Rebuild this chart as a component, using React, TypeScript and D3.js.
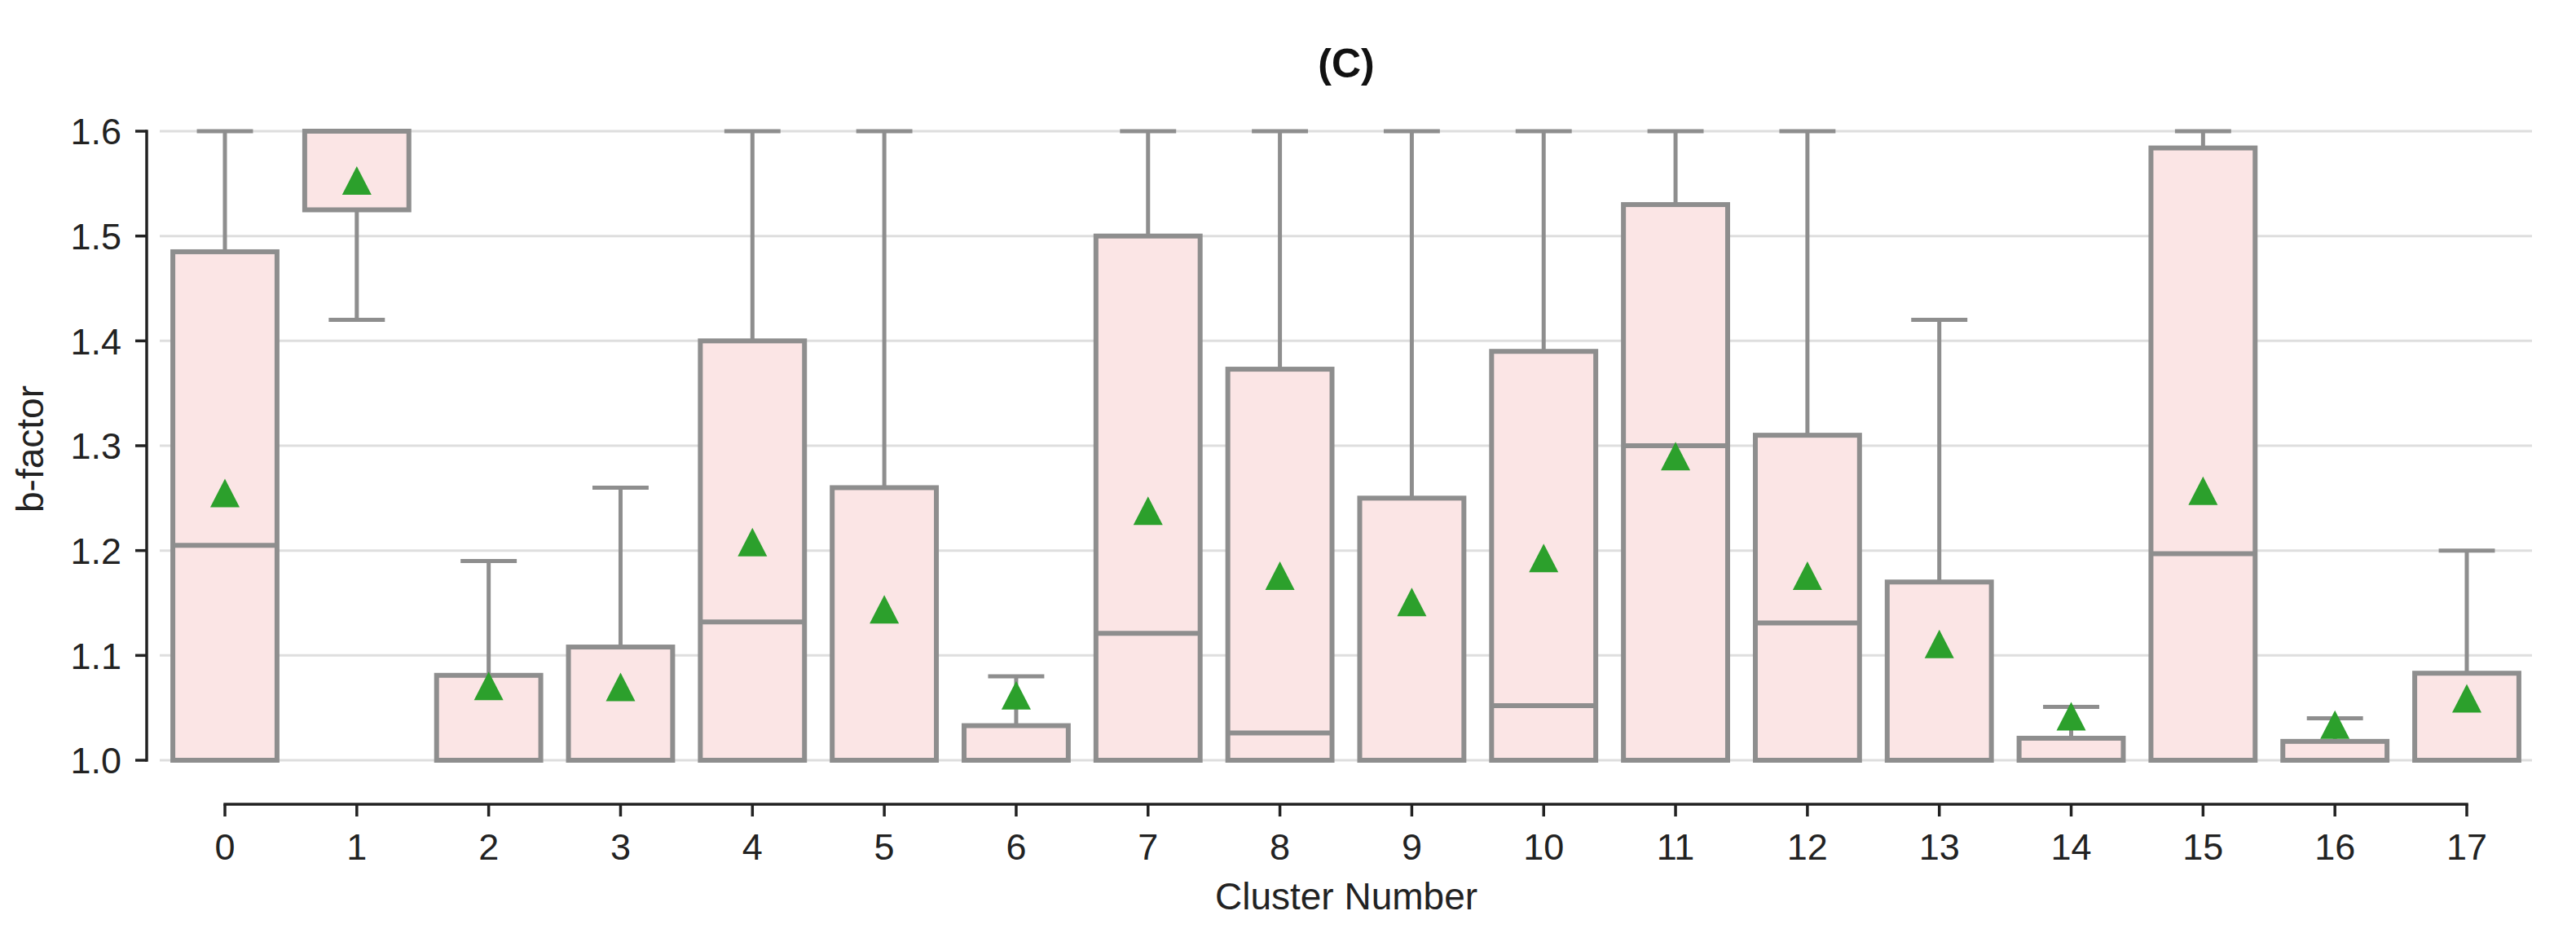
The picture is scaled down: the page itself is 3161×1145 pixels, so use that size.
import React from "react";
import * as d3 from "d3";

const categories = ["0","1","2","3","4","5","6","7","8","9","10","11","12","13","14","15","16","17"];
const whiskerLow = [1.0,1.42,1.0,1.0,1.0,1.0,1.0,1.0,1.0,1.0,1.0,1.0,1.0,1.0,1.0,1.0,1.0,1.0];
const q1 =        [1.0,1.525,1.0,1.0,1.0,1.0,1.0,1.0,1.0,1.0,1.0,1.0,1.0,1.0,1.0,1.0,1.0,1.0];
const median =    [1.205,1.6,1.0,1.0,1.132,1.0,1.0,1.121,1.026,1.0,1.052,1.30,1.131,1.0,1.0,1.197,1.0,1.0];
const q3 =        [1.485,1.6,1.081,1.108,1.40,1.26,1.033,1.50,1.373,1.25,1.39,1.53,1.31,1.17,1.021,1.584,1.018,1.083];
const whiskerHigh=[1.6,1.6,1.19,1.26,1.6,1.6,1.08,1.6,1.6,1.6,1.6,1.6,1.6,1.42,1.051,1.6,1.04,1.2];
const means =     [1.255,1.553,1.071,1.07,1.208,1.144,1.062,1.238,1.176,1.151,1.193,1.29,1.176,1.111,1.042,1.257,1.034,1.059];
const yTicks = [1.0,1.1,1.2,1.3,1.4,1.5,1.6];

const W = 3161, H = 1145;
const FONT = "'Liberation Sans', Arial, Helvetica, sans-serif";
const EDGE = "#8e8e8e";
const FILL = "#fbe5e5";
const GREEN = "#2ca02c";
const AXIS = "#222222";

function trianglePath(w: number, h: number): string {
  const p = d3.path();
  p.moveTo(0, -h / 2);
  p.lineTo(w / 2, h / 2);
  p.lineTo(-w / 2, h / 2);
  p.closePath();
  return p.toString();
}

export default function App() {
  const x = d3.scalePoint<string>().domain(categories).range([276, 3027]);
  const y = d3.scaleLinear().domain([1.0, 1.6]).range([933, 161]);
  const step = x.step();
  const bw = step * 0.79;
  const capW = bw * 0.5;
  const tri = trianglePath(36, 35);
  const yAxisX = 180;
  const xAxisY = 987;

  return (
    <svg width={W} height={H} style={{ position: "absolute", left: 0, top: 0, background: "#fff" }} fontFamily={FONT}>
      <rect x={0} y={0} width={W} height={H} fill="#fff" />
      {yTicks.map((t) => (
        <line key={"g" + t} x1={196} x2={3107} y1={y(t)} y2={y(t)} stroke="#dedede" strokeWidth={3} />
      ))}
      {categories.map((c, i) => {
        const cx = x(c)!;
        return (
          <g key={"b" + c}>
            <line x1={cx} x2={cx} y1={y(q3[i])} y2={y(whiskerHigh[i])} stroke={EDGE} strokeWidth={5} />
            <line x1={cx} x2={cx} y1={y(q1[i])} y2={y(whiskerLow[i])} stroke={EDGE} strokeWidth={5} />
            <line x1={cx - capW / 2} x2={cx + capW / 2} y1={y(whiskerHigh[i])} y2={y(whiskerHigh[i])} stroke={EDGE} strokeWidth={5} strokeLinecap="square" />
            <line x1={cx - capW / 2} x2={cx + capW / 2} y1={y(whiskerLow[i])} y2={y(whiskerLow[i])} stroke={EDGE} strokeWidth={5} strokeLinecap="square" />
            <rect x={cx - bw / 2} y={y(q3[i])} width={bw} height={Math.max(0, y(q1[i]) - y(q3[i]))} fill={FILL} stroke={EDGE} strokeWidth={6} />
            <line x1={cx - bw / 2} x2={cx + bw / 2} y1={y(median[i])} y2={y(median[i])} stroke={EDGE} strokeWidth={6} />
          </g>
        );
      })}
      {categories.map((c, i) => (
        <path key={"m" + c} d={tri} transform={`translate(${x(c)},${y(means[i])})`} fill={GREEN} />
      ))}
      <line x1={yAxisX} x2={yAxisX} y1={y(1.6)} y2={y(1.0)} stroke={AXIS} strokeWidth={3.5} strokeLinecap="square" />
      {yTicks.map((t) => (
        <g key={"yt" + t}>
          <line x1={yAxisX - 14} x2={yAxisX} y1={y(t)} y2={y(t)} stroke={AXIS} strokeWidth={3.5} />
          <text x={149} y={y(t)} dy="0.36em" textAnchor="end" fontSize={45} fill={AXIS}>{t.toFixed(1)}</text>
        </g>
      ))}
      <text transform={`translate(53,551) rotate(-90)`} textAnchor="middle" fontSize={46} fill={AXIS}>b-factor</text>
      <line x1={x(categories[0])} x2={x(categories[categories.length - 1])} y1={xAxisY} y2={xAxisY} stroke={AXIS} strokeWidth={3.5} strokeLinecap="square" />
      {categories.map((c) => (
        <g key={"xt" + c}>
          <line x1={x(c)} x2={x(c)} y1={xAxisY} y2={xAxisY + 15} stroke={AXIS} strokeWidth={3.5} />
          <text x={x(c)} y={1055} textAnchor="middle" fontSize={45} fill={AXIS}>{c}</text>
        </g>
      ))}
      <text x={1652} y={1116} textAnchor="middle" fontSize={46} fill={AXIS}>Cluster Number</text>
      <text x={1652} y={95} textAnchor="middle" fontSize={50} fontWeight="bold" fill="#111">(C)</text>
    </svg>
  );
}
